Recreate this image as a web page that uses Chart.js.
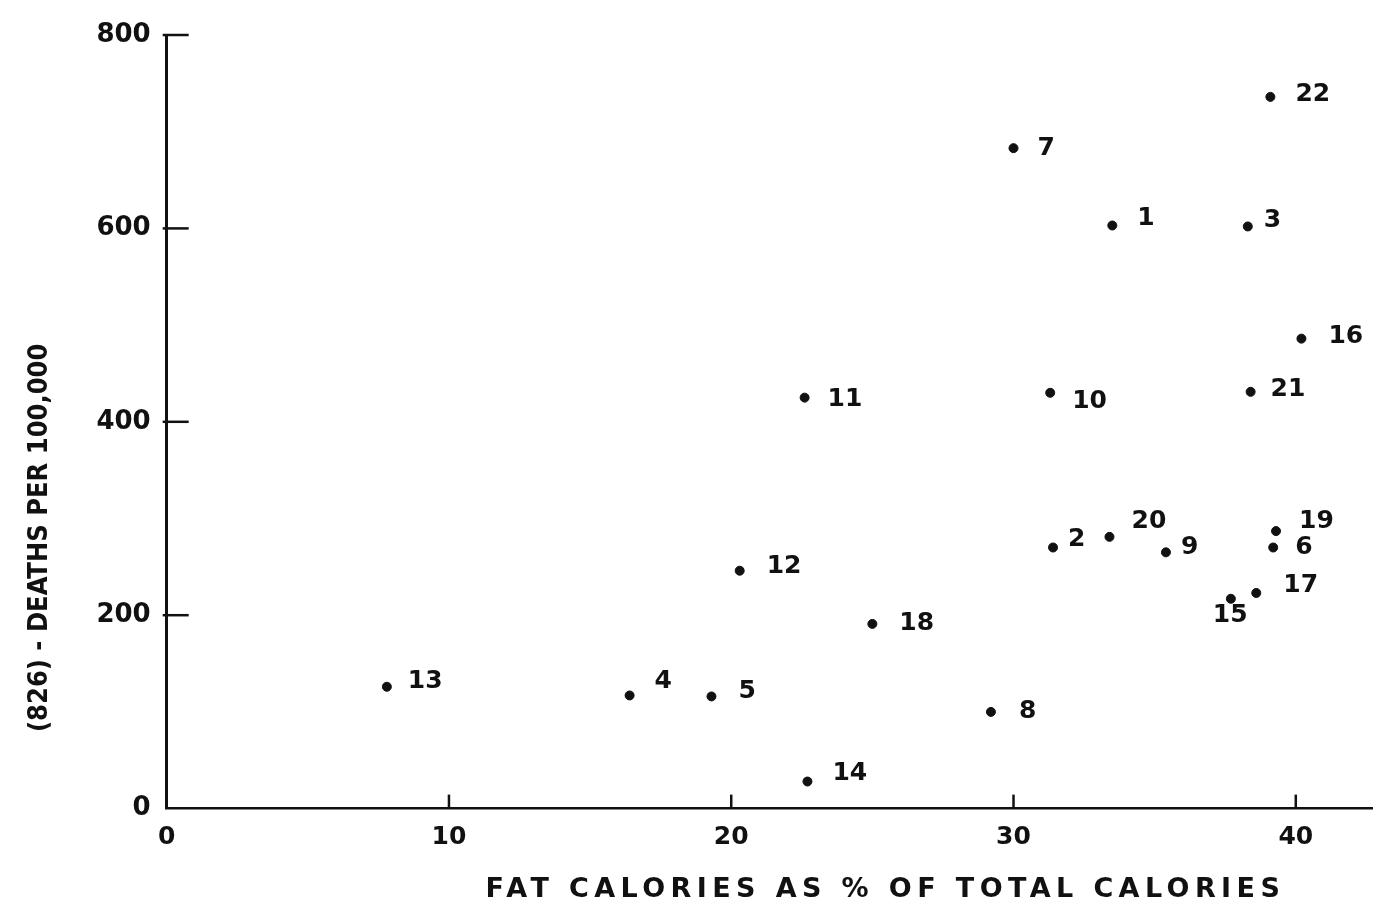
<!DOCTYPE html>
<html>
<head>
<meta charset="utf-8">
<script src="https://cdn.jsdelivr.net/npm/chart.js@4.4.1/dist/chart.umd.min.js"></script>
<style>
  html, body { margin: 0; padding: 0; background: #fff; }
  #wrap { width: 1383px; height: 915px; }
</style>
</head>
<body>
<div id="wrap"><canvas id="c" width="1383" height="915"></canvas></div>
<script>
// ---- data ----
const pointLabels = ['1','2','3','4','5','6','7','8','9','10','11','12','13','14','15','16','17','18','19','20','21','22'];
const fatPct = [33.5, 31.4, 38.3, 16.4, 19.3, 39.2, 30.0, 29.2, 35.4, 31.3, 22.6, 20.3, 7.8, 22.7, 37.7, 40.2, 38.6, 25.0, 39.3, 33.4, 38.4, 39.1];
const deaths = [603, 270, 602, 117, 116, 270, 683, 100, 265, 430, 425, 246, 126, 28, 217, 486, 223, 191, 287, 281, 431, 736];
const xTicks = [0, 10, 20, 30, 40];
const yTicks = [0, 200, 400, 600, 800];
const xTitle = 'FAT CALORIES AS % OF TOTAL CALORIES';
const yTitle = '(826) - DEATHS PER 100,000';

const points = fatPct.map((x, i) => ({ x: x, y: deaths[i] }));

// label placement (style only)
const labelOffsets = {
  '1': [25, -7], '2': [15, -8], '3': [16, -6], '4': [25, -14], '5': [27, -5],
  '6': [22, 0], '7': [24, 0], '8': [28, 0], '9': [15, -5], '10': [22, 9],
  '11': [23, 2], '12': [27, -4], '13': [21, -5], '14': [25, -8], '15': [-18, 17],
  '16': [27, -2], '17': [27, -7], '18': [27, 0], '19': [23, -10], '20': [22, -15],
  '21': [20, -2], '22': [25, -2]
};

const INK = '#111';

const pointLabelPlugin = {
  id: 'pointLabels',
  afterDatasetsDraw(chart) {
    const ctx = chart.ctx;
    const meta = chart.getDatasetMeta(0);
    ctx.save();
    ctx.fillStyle = INK;
    ctx.font = 'bold 25px "DejaVu Sans"';
    ctx.textAlign = 'left';
    ctx.textBaseline = 'middle';
    meta.data.forEach((el, i) => {
      const lab = pointLabels[i];
      const off = labelOffsets[lab] || [24, -3];
      ctx.fillText(lab, el.x + off[0], el.y + off[1]);
    });
    ctx.restore();
  }
};

const innerTicksPlugin = {
  id: 'innerTicks',
  afterDraw(chart) {
    const ctx = chart.ctx;
    const xs = chart.scales.x, ys = chart.scales.y;
    const area = chart.chartArea;
    ctx.save();
    ctx.strokeStyle = INK;
    ctx.lineWidth = 2.5;
    xs.ticks.forEach(t => {
      if (t.value === 0) return;
      const px = xs.getPixelForValue(t.value);
      ctx.beginPath();
      ctx.moveTo(px, area.bottom);
      ctx.lineTo(px, area.bottom - 14);
      ctx.stroke();
    });
    ys.ticks.forEach(t => {
      if (t.value === 0) return;
      const py = ys.getPixelForValue(t.value);
      ctx.beginPath();
      ctx.moveTo(area.left - 4, py);
      ctx.lineTo(area.left + 22, py);
      ctx.stroke();
    });
    ctx.restore();
  }
};

// axis titles in the reference sit off-centre and the x title is letter-spaced
const titleShiftPlugin = {
  id: 'titleShift',
  beforeDraw(chart) {
    const sx = chart.scales.x;
    if (sx && !sx.__wrapped) {
      const orig = sx.drawTitle;
      sx.drawTitle = function () {
        const c = this.ctx;
        c.save();
        c.letterSpacing = '5.4px';
        c.translate(116, 0);
        orig.call(this);
        c.restore();
      };
      sx.__wrapped = true;
    }
    const sy = chart.scales.y;
    if (sy && !sy.__wrapped) {
      const origY = sy.drawTitle;
      sy.drawTitle = function () {
        const c = this.ctx;
        c.save();
        c.translate(0, 116);
        origY.call(this);
        c.restore();
      };
      sy.__wrapped = true;
    }
  }
};

new Chart(document.getElementById('c'), {
  type: 'scatter',
  data: {
    datasets: [{
      data: points,
      backgroundColor: INK,
      borderColor: INK,
      pointRadius: 4.5,
      pointHoverRadius: 4.5,
      pointStyle: 'circle'
    }]
  },
  options: {
    responsive: false,
    animation: false,
    events: [],
    layout: { padding: { left: 20, top: 35, right: 11, bottom: 0 } },
    plugins: { legend: { display: false }, tooltip: { enabled: false } },
    scales: {
      x: {
        type: 'linear',
        min: 0,
        max: 42.7,
        afterBuildTicks: (scale) => { scale.ticks = xTicks.map(v => ({ value: v })); },
        grid: { display: false, drawTicks: false },
        border: { display: true, color: INK, width: 2.5 },
        ticks: {
          color: INK,
          padding: 14,
          font: { family: 'DejaVu Sans', weight: 'bold', size: 25 },
          callback: (v) => String(v)
        },
        title: {
          display: true,
          text: xTitle,
          color: INK,
          font: { family: 'DejaVu Sans', weight: 'bold', size: 27 },
          padding: { top: 7, bottom: 9 }
        }
      },
      y: {
        type: 'linear',
        min: 0,
        max: 800,
        afterBuildTicks: (scale) => { scale.ticks = yTicks.map(v => ({ value: v })); },
        grid: { display: false, drawTicks: false },
        border: { display: true, color: INK, width: 3 },
        ticks: {
          color: INK,
          padding: 16,
          font: { family: 'DejaVu Sans', weight: 'bold', size: 26 },
          callback: (v) => String(v)
        },
        title: {
          display: true,
          text: yTitle,
          color: INK,
          font: { family: 'DejaVu Sans Condensed', weight: 'bold', size: 27 },
          padding: { top: 4, bottom: 24 }
        }
      }
    }
  },
  plugins: [titleShiftPlugin, pointLabelPlugin, innerTicksPlugin]
});
</script>
</body>
</html>
